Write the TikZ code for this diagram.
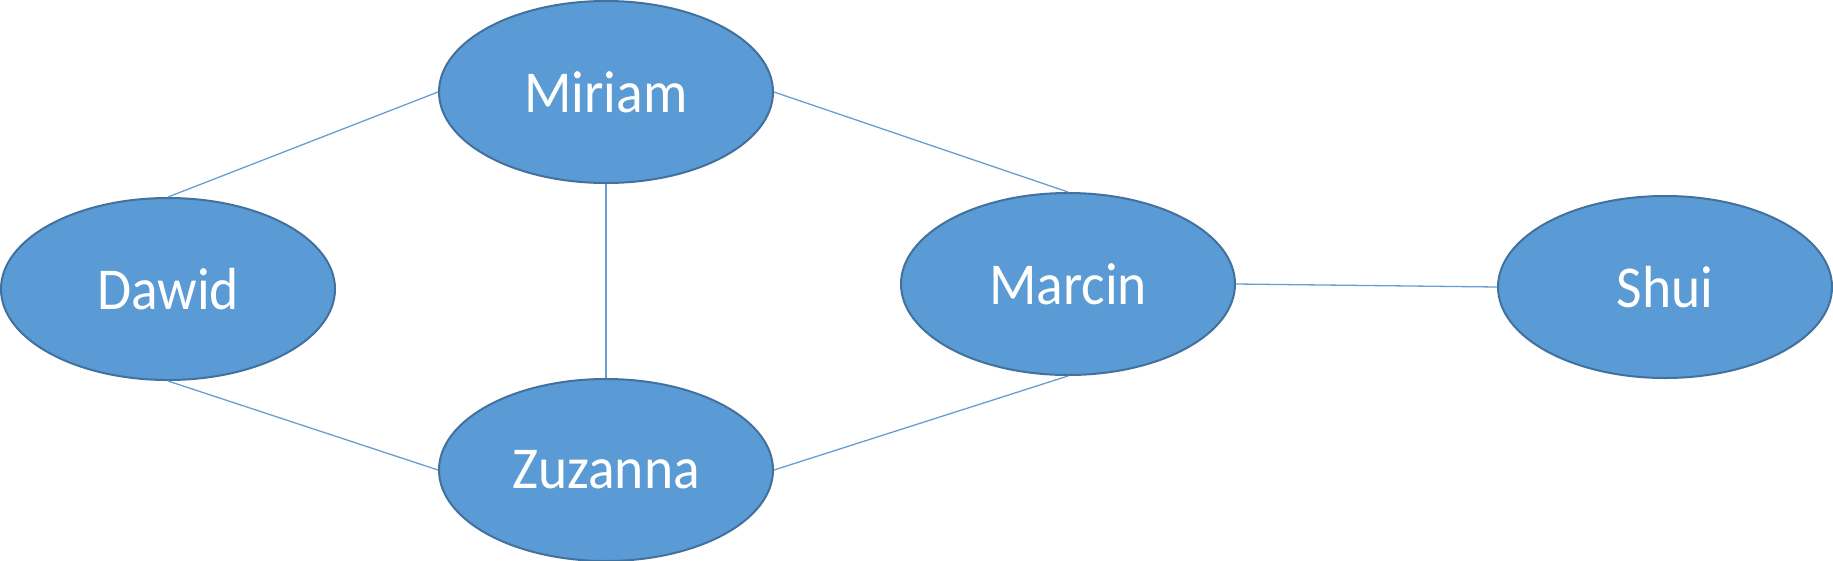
\documentclass[tikz,border=0pt]{standalone}
\usepackage{fontspec}
\setmainfont{Carlito}
\usetikzlibrary{shapes.geometric}
\definecolor{nodefill}{HTML}{5B9BD5}
\definecolor{nodeborder}{HTML}{41719C}
\definecolor{edgecol}{HTML}{6A9ED2}
\newcommand{\personlabel}[1]{\scalebox{1}[1.07]{#1}}
\tikzset{
  person/.style={ellipse, draw=nodeborder, line width=2pt, fill=nodefill,
    minimum width=334pt, minimum height=182pt, inner sep=0pt,
    text=white, font=\fontsize{55.5}{62}\selectfont},
  link/.style={draw=edgecol, line width=1.3pt}
}
\begin{document}
\begin{tikzpicture}[x=1pt,y=-1pt]
\useasboundingbox (0,0) rectangle (1833,560);
\fill[white] (0,0) rectangle (1833,560);
\node[person] (miriam) at (606,92) {\personlabel{Miriam}};
\node[person] (dawid) at (168,289) {\personlabel{Dawid}};
\node[person] (zuzanna) at (606,470) {\personlabel{Zuzanna}};
\node[person] (marcin) at (1068,284) {\personlabel{Marcin}};
\node[person] (shui) at (1665,287) {\personlabel{Shui}};
\path[link] (dawid.north) -- (miriam.west);
\path[link] (dawid.south) -- (zuzanna.west);
\path[link] (miriam.south) -- (zuzanna.north);
\path[link] (miriam.east) -- (marcin.north);
\path[link] (zuzanna.east) -- (marcin.south);
\path[link] (marcin.east) -- (shui.west);
\end{tikzpicture}
\end{document}
